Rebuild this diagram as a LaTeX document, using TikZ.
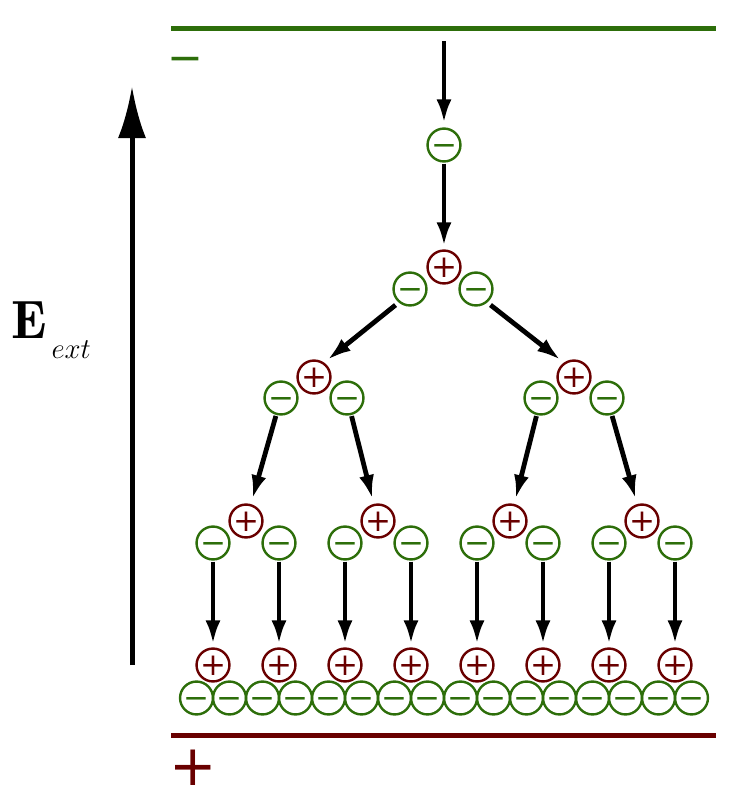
\documentclass[tikz,border=0pt]{standalone}
\usepackage{fontspec}
\usetikzlibrary{arrows.meta}
\newfontfamily\signfont{DejaVu Sans}
\definecolor{negcol}{RGB}{45,110,10}
\definecolor{poscol}{RGB}{105,0,0}
\DeclareMathSizes{27}{27}{14.4}{12}

\begin{document}
\begin{tikzpicture}[
        x=0.5pt, y=-0.5pt,
        poscharge/.style={circle, draw=poscol, line width=1.2pt, minimum size=16pt, inner sep=0pt,
            text=poscol, font=\signfont\fontsize{15.5}{15.5}\selectfont, text height=10.1pt, text depth=0pt},
        negcharge/.style={circle, draw=negcol, line width=1.2pt, minimum size=16pt, inner sep=0pt,
            text=negcol, font=\signfont\fontsize{15.5}{15.5}\selectfont, text height=10.1pt, text depth=0pt},
        flow/.style={line width=2.4pt, -{Latex[length=12pt,width=7.5pt]}, shorten <=0.5pt, shorten >=1.5pt}
    ]
    \useasboundingbox (0,0) rectangle (747,800);

    % Plates
    \coordinate (topL) at (171,28);
    \coordinate (topR) at (716,28);
    \coordinate (botL) at (171,735);
    \coordinate (botR) at (716,735);
    \draw[negcol, line width=2.5pt] (topL) -- (topR);
    \draw[poscol, line width=2.5pt] (botL) -- (botR);
    \node[inner sep=0pt, text=negcol, font=\signfont\fontsize{21.4}{21.4}\selectfont,
        text height=14pt, text depth=0pt] (minuslabel) at (185,58) {−};
    \node[inner sep=0pt, text=poscol, font=\signfont\fontsize{28.3}{28.3}\selectfont,
        text height=18.5pt, text depth=0pt] (pluslabel) at (193,767) {+};

    % Field
    \coordinate (fieldfoot) at (132,665);
    \coordinate (fieldhead) at (132,86);
    \draw[line width=2.5pt, -{Latex[length=26pt,width=14pt]}] (fieldfoot) -- (fieldhead);
    \node[anchor=base west, inner sep=0pt, font=\fontsize{27}{30}\selectfont] (efield) at (11,338)
        {$\mathbf{E}_{\raisebox{-6.5pt}{$\scriptstyle \,ext$}}$};

    % Nodes
    \node[negcharge] (m0) at (444,145) {−};
    \node[poscharge] (p1) at (444,267) {+};
    \node[negcharge] (m1a) at (410,289) {−};
    \node[negcharge] (m1b) at (476,289) {−};

    \node[poscharge] (p2a) at (314,377) {+};
    \node[negcharge] (m2a) at (281,398) {−};
    \node[negcharge] (m2b) at (347,398) {−};
    \node[poscharge] (p2b) at (574,377) {+};
    \node[negcharge] (m2c) at (541,398) {−};
    \node[negcharge] (m2d) at (607,398) {−};

    \node[poscharge] (p3a) at (246,521) {+};
    \node[poscharge] (p3b) at (378,521) {+};
    \node[poscharge] (p3c) at (510,521) {+};
    \node[poscharge] (p3d) at (642,521) {+};
    \foreach \i in {1,...,8}
        \node[negcharge] (m3-\i) at ({147+66*\i},543) {−};

    \foreach \i in {1,...,8}
        \node[poscharge] (p4-\i) at ({147+66*\i},665) {+};
    \foreach \i in {1,...,16}
        \node[negcharge] (m4-\i) at ({163.5+33*\i},698) {−};

    % Arrows
    \coordinate (src) at (444,40);
    \draw[flow, shorten >=2pt] (src) -- (m0);
    \draw[flow] (m0) -- (p1);
    \draw[flow, shorten <=2pt, shorten >=2pt] (m1a.230) -- (p2a.55);
    \draw[flow, shorten <=2pt, shorten >=2pt] (m1b.310) -- (p2b.125);
    \draw[flow, shorten >=2.5pt] (m2a) -- (p3a);
    \draw[flow, shorten >=2.5pt] (m2b) -- (p3b);
    \draw[flow, shorten >=2.5pt] (m2c) -- (p3c);
    \draw[flow, shorten >=2.5pt] (m2d) -- (p3d);
    \foreach \i in {1,...,8}
        \draw[flow] (m3-\i) -- (p4-\i);

\end{tikzpicture}
\end{document}
